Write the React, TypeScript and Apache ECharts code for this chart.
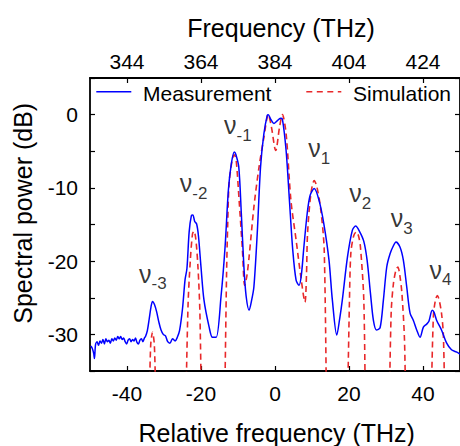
import React, { useEffect, useRef } from "react";
import * as echarts from "echarts";

// Measurement (relative frequency THz, spectral power dB)
const measFreq = [
  -49.8, -49.4, -49.0, -48.8, -48.5, -48.1, -47.7, -47.3, -46.9, -46.5, -46.1, -45.7, -45.3, -44.9, -44.5,
  -44.1, -43.7, -43.3, -42.9, -42.5, -42.1, -41.7, -41.3, -40.9, -40.5, -40.1, -39.7, -39.3, -38.9, -38.5,
  -38.1, -37.7, -37.3, -36.9, -36.5, -36.1, -35.7, -35.3, -35.0,
  -34.5, -34.0, -33.5, -33.1, -32.6, -32.0, -31.4, -30.8,
  -30.2, -29.6, -29.0, -28.4, -27.7, -27.0, -26.4, -25.8, -25.0, -24.3, -23.8, -23.2, -22.6, -22.2, -21.7,
  -21.2, -20.7, -20.0, -19.2, -17.8, -16.9, -15.9, -14.6, -13.5, -12.6, -11.8, -11.0, -10.6, -9.8, -9.1,
  -8.4, -7.8, -7.0, -6.3, -5.7, -4.8, -3.9, -3.0, -2.1, -1.8, -1.2, -0.3, 0.5, 1.5, 2.0,
  3.0, 3.9, 4.8, 5.7, 6.5, 7.1, 7.8, 8.7, 9.5, 10.6, 11.9, 13.2, 14.6, 15.5, 16.7,
  17.5, 18.2, 19.6, 20.9, 21.8, 22.8, 24.0, 24.9, 25.8, 26.6, 27.4, 28.4, 29.3, 30.2, 31.1,
  32.0, 32.7, 33.8, 34.7, 35.6, 36.5, 37.4, 38.3, 39.2, 40.1, 41.0, 41.6, 42.5, 43.0, 43.7,
  45.0, 46.4, 47.7, 49.0, 50.0,
];
const measPower = [
  -31.6, -31.9, -32.6, -33.3, -31.4, -31.0, -31.5, -30.9, -31.2, -30.7, -31.3, -30.6, -31.0, -30.8, -31.2,
  -30.6, -30.9, -30.5, -30.8, -30.3, -30.6, -30.3, -30.7, -30.5, -31.0, -31.3, -30.8, -30.6, -31.0, -30.7,
  -30.9, -30.5, -31.1, -31.3, -30.8, -30.6, -31.0, -30.5, -30.3,
  -29.5, -27.9, -26.2, -25.5, -25.9, -26.9, -28.3, -29.4,
  -30.0, -30.2, -31.0, -31.2, -30.6, -30.9, -30.4, -29.5, -26.5, -22.5, -21.0, -16.0, -13.8, -13.7, -14.6,
  -14.9, -16.5, -20.8, -25.3, -29.0, -30.4, -30.4, -24.9, -18.1, -10.3, -6.7, -5.1, -5.4, -7.1, -13.5,
  -20.8, -24.8, -26.7, -25.3, -23.5, -16.2, -7.1, -2.6, -0.1, 0.0, -0.6, -1.2, -0.9, -0.5, -0.6,
  -4.9, -11.7, -18.5, -22.6, -23.3, -22.0, -18.1, -13.5, -11.0, -10.1, -11.7, -14.9, -19.9, -25.3, -30.1,
  -27.8, -25.3, -19.4, -15.8, -15.2, -15.9, -17.3, -19.9, -24.4, -28.1, -29.4, -29.1, -25.3, -20.8, -19.0,
  -17.9, -17.4, -18.1, -19.9, -23.5, -27.1, -28.1, -29.4, -30.4, -29.0, -28.6, -28.2, -26.7, -27.0, -28.1,
  -29.4, -31.2, -32.1, -32.4, -32.7,
];

// Simulation (null = gap, curve falls below the axis range)
const simFreq = [
  -34.0, -33.6, -33.1, -32.6, -32.2, -32.0,
  -24.1, -23.5, -22.9, -22.3, -21.9, -21.4, -20.8, -20.3, -19.9, -19.7,
  -13.6, -13.1, -12.8, -12.4, -11.5, -11.0, -10.5, -9.7, -8.8, -8.2, -7.6, -7.0, -5.7, -4.3, -3.0, -1.8,
  -1.0, 0.2, 1.2, 2.0, 3.0, 4.3, 5.7, 7.0, 8.1, 8.5, 8.8, 9.7, 10.6, 11.3, 12.4, 13.3, 13.9, 14.0,
  19.6, 20.1, 20.5, 21.3, 22.0, 22.6, 23.1, 24.0, 24.4, 24.5,
  30.9, 31.4, 32.0, 32.7, 33.2, 33.7, 34.3, 35.0, 35.3, 35.4,
  42.2, 42.8, 43.4, 43.9, 44.4, 45.0, 45.5, 45.9,
];
const simPower: (number | null)[] = [
  -40, -31.5, -29.7, -31.5, -40, null,
  -40, -26, -20, -16.3, -15.9, -17, -21, -27, -40, null,
  -40, -22, -15.3, -9.4, -6.0, -5.5, -6.2, -11.7, -18.5, -23.3, -22.0, -19.4, -12.6, -7.1, -3.1, 0,
  -1.6, -4.9, -1.8, 0, -2.6, -11.7, -17.1, -22.2, -25.6, -22, -16.2, -10.8, -9.0, -9.8, -13.1, -18.5, -40, null,
  -40, -26, -18.9, -16.5, -16.0, -16.6, -18.1, -25.3, -40, null,
  -40, -27, -23.1, -21.2, -20.8, -21.8, -24.4, -30.8, -40, null,
  -40, -27.6, -25.2, -24.7, -25.4, -27.1, -30, -40,
];

// Peak labels: subscript text and the point where the ν meets its subscript (data coordinates)
const peakSubs = ["-3", "-2", "-1", "1", "2", "3", "4"];
const peakFreq = [-33.38, -22.34, -10.39, 12.38, 23.42, 34.64, 45.14];
const peakPower = [-21.69, -9.39, -1.43, -4.57, -10.71, -14.12, -21.17];

const bottomTicks = [-40, -20, 0, 20, 40];
const topTicks = [344, 364, 384, 404, 424];
const yLabels = [-30, -20, -10, 0];
const legendNames = ["Measurement", "Simulation"];

const FONT = "Liberation Sans, Arial, Helvetica, sans-serif";
const BLUE = "#0000ff";
const RED = "#e8282a";

export default function App() {
  const ref = useRef<HTMLDivElement>(null);
  useEffect(() => {
    if (!ref.current) return;
    const chart = echarts.init(ref.current, undefined, { renderer: "svg" });
    const axisLine = { show: true, onZero: false, lineStyle: { color: "#000", width: 1.8 } };
    const tick = { show: true, inside: true, length: 5, lineStyle: { color: "#000", width: 1.2 } };
    const labelStyle = { color: "#000", fontSize: 21, fontFamily: FONT };
    const titleStyle = (text: string) => ({
      text,
      font: `25px ${FONT}`,
      fill: "#000",
      align: "center",
      verticalAlign: "middle",
    });
    chart.setOption({
      animation: false,
      backgroundColor: "#fff",
      grid: { left: 90, top: 78, width: 371.5, height: 293, containLabel: false },
      xAxis: [
        {
          type: "value",
          position: "bottom",
          min: -50,
          max: 50,
          interval: 10,
          axisLine,
          axisTick: { ...tick, customValues: bottomTicks },
          axisLabel: { ...labelStyle, margin: 12, customValues: bottomTicks },
          splitLine: { show: false },
        },
        {
          type: "value",
          position: "top",
          min: 334,
          max: 434,
          axisLine,
          axisTick: { ...tick, customValues: topTicks },
          axisLabel: { ...labelStyle, margin: 6, customValues: topTicks },
          splitLine: { show: false },
        },
      ],
      yAxis: [
        {
          type: "value",
          position: "left",
          min: -35,
          max: 5,
          interval: 5,
          axisLine,
          axisTick: tick,
          axisLabel: { ...labelStyle, margin: 12, customValues: yLabels },
          splitLine: { show: false },
        },
        {
          type: "value",
          position: "right",
          min: -35,
          max: 5,
          interval: 5,
          axisLine,
          axisTick: tick,
          axisLabel: { show: false },
          splitLine: { show: false },
        },
      ],
      graphic: [
        { type: "text", x: 281, y: 27.5, style: titleStyle("Frequency (THz)") },
        { type: "text", x: 276.7, y: 432.8, style: titleStyle("Relative frequency (THz)") },
        { type: "text", x: 22.5, y: 213.3, rotation: Math.PI / 2, style: titleStyle("Spectral power (dB)") },
        // legend
        { type: "line", shape: { x1: 96.3, y1: 91.7, x2: 131.3, y2: 91.7 }, style: { stroke: BLUE, lineWidth: 1.5 } },
        {
          type: "text",
          x: 143,
          y: 93.8,
          style: { text: legendNames[0], font: `21px ${FONT}`, fill: "#000", align: "left", verticalAlign: "middle" },
        },
        {
          type: "line",
          shape: { x1: 306.3, y1: 91.7, x2: 341.3, y2: 91.7 },
          style: { stroke: RED, lineWidth: 1.6, lineDash: [6, 4.5] },
        },
        {
          type: "text",
          x: 353,
          y: 93.8,
          style: { text: legendNames[1], font: `21px ${FONT}`, fill: "#000", align: "left", verticalAlign: "middle" },
        },
      ],
      series: [
        {
          name: legendNames[0],
          type: "line",
          xAxisIndex: 0,
          yAxisIndex: 0,
          symbol: "none",
          smooth: 0.3,
          clip: true,
          lineStyle: { color: BLUE, width: 1.5 },
          itemStyle: { color: BLUE },
          data: measFreq.map((x, i) => [x, measPower[i]]),
          z: 3,
        },
        {
          name: legendNames[1],
          type: "line",
          xAxisIndex: 0,
          yAxisIndex: 0,
          symbol: "none",
          smooth: 0.3,
          clip: true,
          connectNulls: false,
          lineStyle: { color: RED, width: 1.6, type: [6, 4] },
          itemStyle: { color: RED },
          data: simFreq.map((x, i) => [x, simPower[i] === null ? "-" : simPower[i]]),
          z: 2,
        },
        {
          name: "nu",
          type: "scatter",
          xAxisIndex: 0,
          yAxisIndex: 0,
          symbol: "circle",
          symbolSize: 1,
          silent: true,
          itemStyle: { color: "rgba(0,0,0,0)" },
          label: {
            show: true,
            position: "inside",
            align: "right",
            verticalAlign: "middle",
            color: "#000",
            fontSize: 25,
            fontFamily: FONT,
            formatter: () => "ν",
          },
          data: peakFreq.map((x, i) => [x, peakPower[i]]),
          z: 4,
        },
        {
          name: "sub",
          type: "scatter",
          xAxisIndex: 0,
          yAxisIndex: 0,
          symbol: "circle",
          symbolSize: 1,
          silent: true,
          itemStyle: { color: "rgba(0,0,0,0)" },
          label: {
            show: true,
            position: "inside",
            align: "left",
            verticalAlign: "middle",
            offset: [0, 10],
            color: "#000",
            fontSize: 17,
            fontFamily: FONT,
            formatter: (p: any) => peakSubs[p.dataIndex],
          },
          data: peakFreq.map((x, i) => [x, peakPower[i]]),
          z: 4,
        },
      ],
    });
    return () => chart.dispose();
  }, []);
  return (
    <div
      ref={ref}
      style={{ position: "absolute", left: 0, top: 0, width: 460, height: 446, background: "#fff" }}
    />
  );
}
